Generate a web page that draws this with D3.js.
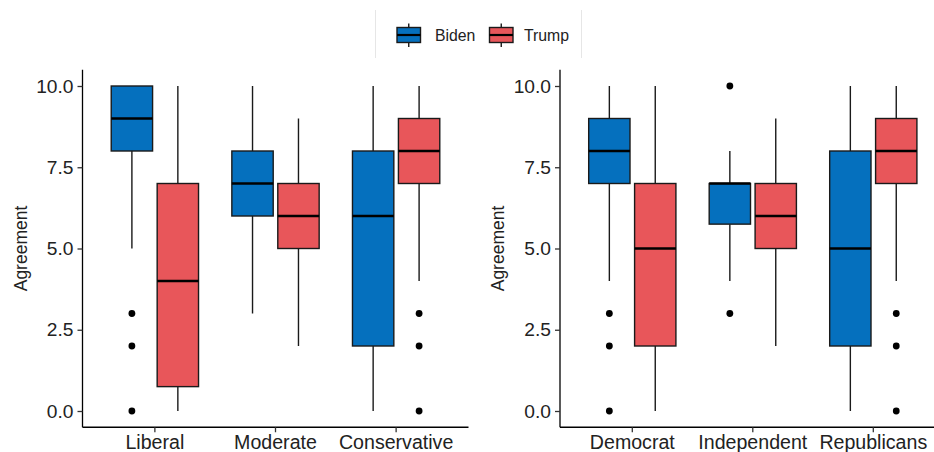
<!DOCTYPE html>
<html>
<head>
<meta charset="utf-8">
<script src="https://cdn.jsdelivr.net/npm/d3@7"></script>
<style>
  html, body { margin: 0; padding: 0; background: #fff; }
  svg { display: block; }
  text { font-family: "Liberation Sans", Arial, Helvetica, sans-serif; }
</style>
</head>
<body>
<svg id="chart" width="934" height="452"></svg>
<script>
// ---------- data ----------
const seriesNames = ["Biden", "Trump"];
const seriesColors = ["#0570BE", "#E8565A"];
const yTicks = [0, 2.5, 5, 7.5, 10];

const ideologyCats = ["Liberal", "Moderate", "Conservative"];
// [lower whisker, Q1, median, Q3, upper whisker]
const ideologyBiden = [[5, 8, 9, 10, 10], [3, 6, 7, 8, 10], [0, 2, 6, 8, 10]];
const ideologyTrump = [[0, 0.75, 4, 7, 10], [2, 5, 6, 7, 9], [4, 7, 8, 9, 10]];
const ideologyBidenOut = [[3, 2, 0], [], []];
const ideologyTrumpOut = [[], [], [3, 2, 0]];

const partyCats = ["Democrat", "Independent", "Republicans"];
const partyBiden = [[4, 7, 8, 9, 10], [4, 5.75, 7, 7, 8], [0, 2, 5, 8, 10]];
const partyTrump = [[0, 2, 5, 7, 10], [2, 5, 6, 7, 9], [4, 7, 8, 9, 10]];
const partyBidenOut = [[3, 2, 0], [10, 3], []];
const partyTrumpOut = [[], [], [3, 2, 0]];

// ---------- drawing ----------
const svg = d3.select("#chart");
const yTop = 69.75, yBot = 427.25;
const y = d3.scaleLinear().domain([-0.5, 10.5]).range([yBot, yTop]);
const lineW = 1.4;

function drawPanel(x0, x1, cats, stats, outs) {
  const g = svg.append("g");
  const x = d3.scaleBand().domain(cats).range([x0, x1]).paddingInner(0).paddingOuter(0.1);
  const step = x.step();
  const dodge = d3.scaleBand().domain(seriesNames).range([-0.4 * step, 0.4 * step]).padding(0.1);
  const bw = dodge.bandwidth();

  seriesNames.forEach((s, si) => {
    cats.forEach((c, ci) => {
      const st = stats[si][ci];
      const cx = x(c) + step / 2 + dodge(s) + bw / 2;
      const bg = g.append("g");
      // whiskers
      bg.append("line").attr("x1", cx).attr("x2", cx)
        .attr("y1", y(st[0])).attr("y2", y(st[1]))
        .attr("stroke", "#1a1a1a").attr("stroke-width", lineW);
      bg.append("line").attr("x1", cx).attr("x2", cx)
        .attr("y1", y(st[3])).attr("y2", y(st[4]))
        .attr("stroke", "#1a1a1a").attr("stroke-width", lineW);
      // box
      bg.append("rect").attr("x", cx - bw / 2).attr("width", bw)
        .attr("y", y(st[3])).attr("height", y(st[1]) - y(st[3]))
        .attr("fill", seriesColors[si]).attr("stroke", "#1a1a1a").attr("stroke-width", lineW);
      // median
      bg.append("line").attr("x1", cx - bw / 2).attr("x2", cx + bw / 2)
        .attr("y1", y(st[2])).attr("y2", y(st[2]))
        .attr("stroke", "#000").attr("stroke-width", 2.6);
      // outliers
      bg.selectAll("circle.o").data(outs[si][ci]).join("circle")
        .attr("cx", cx).attr("cy", d => y(d)).attr("r", 3.4).attr("fill", "#000");
    });
  });

  // y axis
  const ya = g.append("g").attr("transform", `translate(${x0},0)`)
    .call(d3.axisLeft(y).tickValues(yTicks).tickFormat(d3.format(".1f")).tickSize(5).tickSizeOuter(0).tickPadding(4));
  ya.select(".domain").attr("d", `M0,${yTop}V${yBot}`).attr("stroke", "#000").attr("stroke-width", 1.3);
  ya.selectAll(".tick line").attr("stroke", "#333").attr("stroke-width", 1.3);
  ya.selectAll(".tick text").attr("font-size", 19.2).attr("fill", "#222")
    .attr("font-family", '"Liberation Sans", Arial, sans-serif');

  // x axis
  const xa = g.append("g").attr("transform", `translate(0,${yBot})`)
    .call(d3.axisBottom(x).tickSize(5).tickSizeOuter(0).tickPadding(3));
  xa.select(".domain").attr("d", `M${x0},0H${x1}`).attr("stroke", "#000").attr("stroke-width", 1.3);
  xa.selectAll(".tick line").attr("stroke", "#333").attr("stroke-width", 1.3);
  xa.selectAll(".tick text").attr("font-size", 19.6).attr("fill", "#222")
    .attr("font-family", '"Liberation Sans", Arial, sans-serif');

  // y title
  g.append("text")
    .attr("transform", `translate(${x0 - 62},${(yTop + yBot) / 2}) rotate(-90)`)
    .attr("text-anchor", "middle").attr("dy", "0.35em")
    .attr("font-size", 17.5).attr("fill", "#222").text("Agreement");
}

drawPanel(82.5, 468.5, ideologyCats, [ideologyBiden, ideologyTrump], [ideologyBidenOut, ideologyTrumpOut]);
drawPanel(560, 945.6, partyCats, [partyBiden, partyTrump], [partyBidenOut, partyTrumpOut]);

// ---------- legend ----------
const lg = svg.append("g");
lg.append("line").attr("x1", 375.5).attr("x2", 375.5).attr("y1", 10).attr("y2", 58)
  .attr("stroke", "#e6e6e6").attr("stroke-width", 1);
lg.append("line").attr("x1", 581.5).attr("x2", 581.5).attr("y1", 10).attr("y2", 58)
  .attr("stroke", "#e6e6e6").attr("stroke-width", 1);
const keyX = [397, 489.5];
const labelX = [435, 524];
seriesNames.forEach((s, i) => {
  const kx = keyX[i], kw = 23.5, ky = 27.5, kh = 15;
  const cx = kx + kw / 2;
  lg.append("line").attr("x1", cx).attr("x2", cx).attr("y1", 23.5).attr("y2", 47)
    .attr("stroke", "#1a1a1a").attr("stroke-width", lineW);
  lg.append("rect").attr("x", kx).attr("y", ky).attr("width", kw).attr("height", kh)
    .attr("fill", seriesColors[i]).attr("stroke", "#1a1a1a").attr("stroke-width", lineW);
  lg.append("line").attr("x1", kx).attr("x2", kx + kw).attr("y1", ky + kh / 2).attr("y2", ky + kh / 2)
    .attr("stroke", "#000").attr("stroke-width", 2.2);
  lg.append("text").attr("x", labelX[i]).attr("y", 35).attr("dy", "0.35em")
    .attr("font-size", 15.8).attr("fill", "#222").text(s);
});
</script>
</body>
</html>
